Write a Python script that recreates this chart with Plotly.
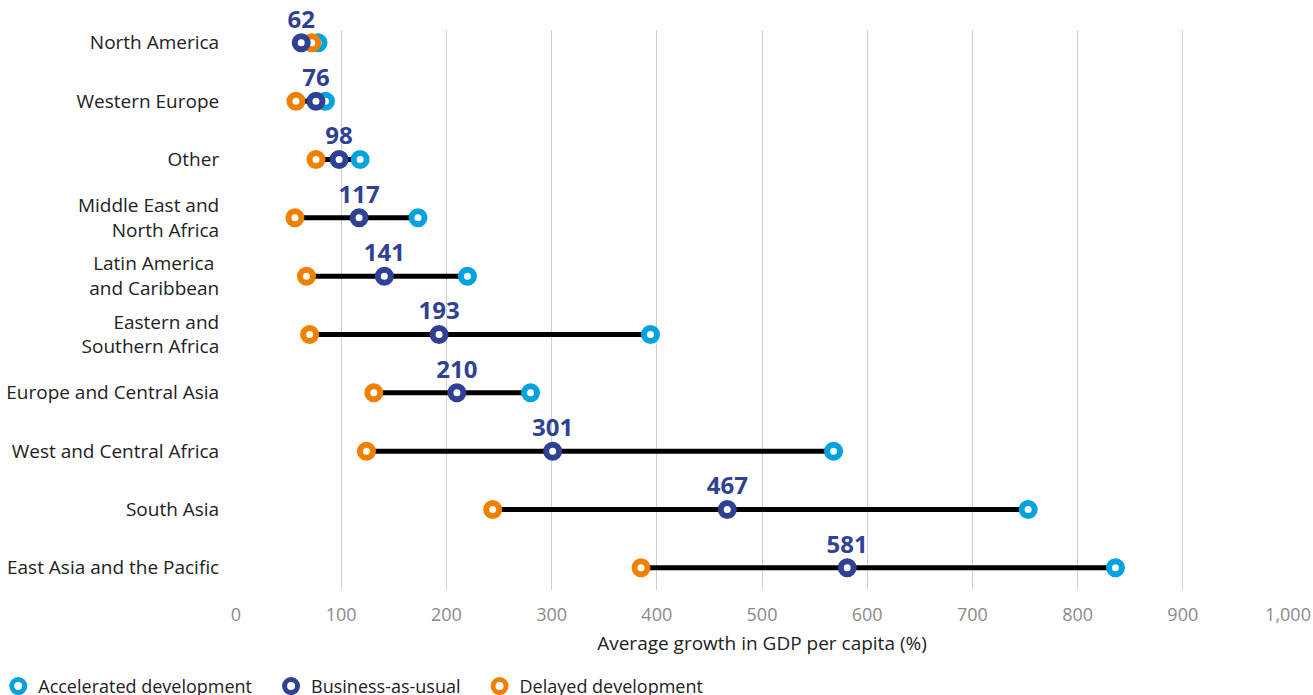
import plotly.graph_objects as go

# Data
regions = [
    "North America",
    "Western Europe",
    "Other",
    "Middle East and<br>North Africa",
    "Latin America <br>and Caribbean",
    "Eastern and<br>Southern Africa",
    "Europe and Central Asia",
    "West and Central Africa",
    "South Asia",
    "East Asia and the Pacific",
]
accelerated = [78, 85, 118, 173, 220, 394, 280, 568, 753, 836]
business_as_usual = [62, 76, 98, 117, 141, 193, 210, 301, 467, 581]
delayed = [72, 57, 76, 56, 67, 70, 131, 124, 244, 385]

c_acc = "#00A3E0"
c_bau = "#2E4195"
c_del = "#F08000"

fig = go.Figure()

# Black range line from lowest to highest scenario
line_x, line_y = [], []
for r, a, b, d in zip(regions, accelerated, business_as_usual, delayed):
    line_x += [min(a, b, d), max(a, b, d), None]
    line_y += [r, r, None]
fig.add_trace(go.Scatter(
    x=line_x, y=line_y, mode="lines",
    line=dict(color="black", width=5),
    showlegend=False, hoverinfo="skip"
))

marker_style = dict(size=13, color="white", symbol="circle")

fig.add_trace(go.Scatter(
    x=accelerated, y=regions, mode="markers", name="Accelerated development   ",
    marker=dict(**marker_style, line=dict(color=c_acc, width=6)),
    legendrank=1, cliponaxis=False
))
fig.add_trace(go.Scatter(
    x=delayed, y=regions, mode="markers", name="Delayed development",
    marker=dict(**marker_style, line=dict(color=c_del, width=6)),
    legendrank=3, cliponaxis=False
))
fig.add_trace(go.Scatter(
    x=business_as_usual, y=regions, mode="markers+text", name="Business-as-usual   ",
    marker=dict(**marker_style, line=dict(color=c_bau, width=6)),
    text=[str(v) for v in business_as_usual], textposition="top center",
    textfont=dict(family="Open Sans", size=24, color=c_bau, weight="bold"),
    legendrank=2, cliponaxis=False
))

fig.update_layout(
    width=1313, height=695,
    margin=dict(l=236, r=25, t=30, b=105, autoexpand=False),
    plot_bgcolor="white", paper_bgcolor="white",
    font=dict(family="Open Sans", size=19, color="#222222"),
    showlegend=True,
    legend=dict(
        orientation="h", x=-0.226, xanchor="left", y=-0.139, yanchor="top",
        font=dict(size=18, color="#222222"), itemwidth=30,
        traceorder="normal"
    ),
    xaxis=dict(
        range=[0, 1000], tickvals=list(range(0, 1001, 100)), tickformat=",",
        showgrid=True, gridcolor="#d0d0d0", gridwidth=1,
        zeroline=False, showline=False, automargin=False,
        tickfont=dict(size=18, color="#8a8a8a"),
        title=dict(text="Average growth in GDP per capita (%)",
                   font=dict(size=19, color="#222222"), standoff=12),
        ticks="outside", ticklen=8, tickcolor="white"
    ),
    yaxis=dict(
        type="category", categoryorder="array", categoryarray=regions,
        range=[9.38, -0.22], automargin=False,
        showgrid=False, zeroline=False, showline=False,
        ticks="outside", ticklen=12, tickcolor="white",
        tickfont=dict(size=19, color="#222222")
    ),
)

# drop the default page margin so the figure fills the window exactly
fig.write_html("out.html", config={"displayModeBar": False},
               post_script="document.body.style.margin='0';")
